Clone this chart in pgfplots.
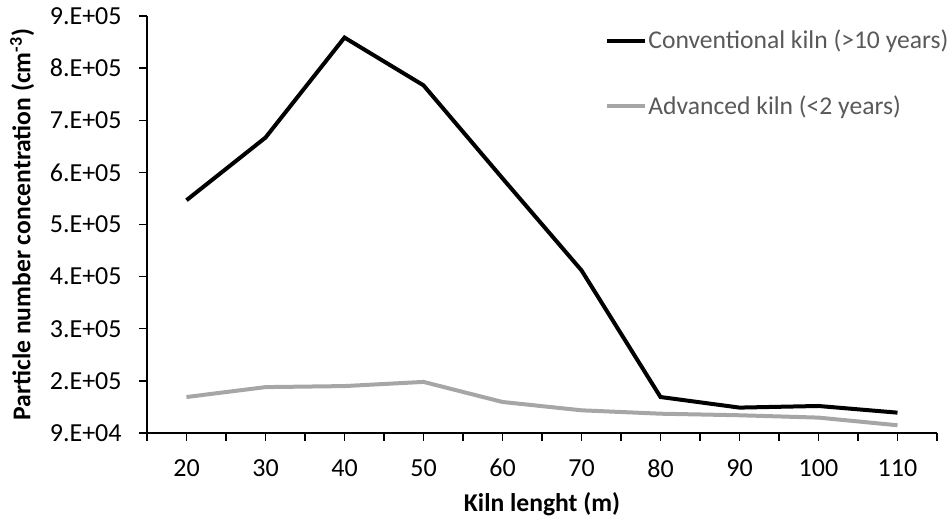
\documentclass[border=0pt]{standalone}
\usepackage{pgfplots}
\pgfplotsset{compat=1.18}
\usepackage{fontspec}
\setmainfont{Carlito}
\definecolor{advgray}{HTML}{A6A6A6}
\definecolor{legtext}{HTML}{595959}

\begin{document}
\begin{tikzpicture}
\useasboundingbox (-73.5pt,-44.5pt) rectangle (401.5pt,216.5pt);
\begin{axis}[
scale only axis,
width=395pt,height=208.5pt,
xmin=15,xmax=115,
ymin=90000,ymax=890000,
axis x line*=bottom,axis y line*=left,
axis line style={black,line width=0.7pt},
every tick/.style={black,line width=0.7pt},
tick align=outside,
major tick length=4pt,minor tick length=4pt,
xtick={20,30,...,110},
minor xtick={15,25,...,115},
scaled y ticks=false,
ytick={90000,190000,...,890000},
yticklabels={9.E+04,2.E+05,3.E+05,4.E+05,5.E+05,6.E+05,7.E+05,8.E+05,9.E+05},
/pgf/number format/assume math mode=true,
tick label style={font=\fontsize{13}{15}\selectfont,black},
xticklabel style={inner sep=0pt,anchor=north},
yticklabel style={inner sep=0pt,anchor=east},
xticklabel shift=9pt,
yticklabel shift=8.5pt,
xlabel={\textbf{Kiln lenght (m)}},
ylabel={\textbf{Particle number concentration (cm\textsuperscript{-3})}},
label style={font=\fontsize{12.8}{15}\selectfont},
xlabel style={at={(axis description cs:0.5,0)},yshift=-35.5pt,anchor=center},
ylabel style={at={(axis description cs:-0.158,0.5)},anchor=center,rotate=0},
legend style={draw=none,fill=none,inner sep=0pt,
  at={(axis description cs:0.579,0.862)},anchor=west,
  font=\fontsize{12.8}{15}\selectfont,text=legtext,
  row sep=20.2pt,column sep=0pt,
  nodes={inner sep=0.8pt}},
legend cell align=left,
legend image code/.code={\draw[#1] (0pt,0pt) -- (19pt,0pt);},
]
\addplot[black,line width=2pt] coordinates {
(20,536600)(30,656700)(40,848600)(50,757000)(60,578600)
(70,402000)(80,159000)(90,138700)(100,141800)(110,129000)};
\addlegendentry{Conventional kiln (>10 years)}
\addplot[advgray,line width=2pt] coordinates {
(20,159000)(30,178000)(40,180000)(50,188000)(60,149500)
(70,133500)(80,127000)(90,124000)(100,119500)(110,104800)};
\addlegendentry{Advanced kiln (<2 years)}
\end{axis}
\end{tikzpicture}
\end{document}
